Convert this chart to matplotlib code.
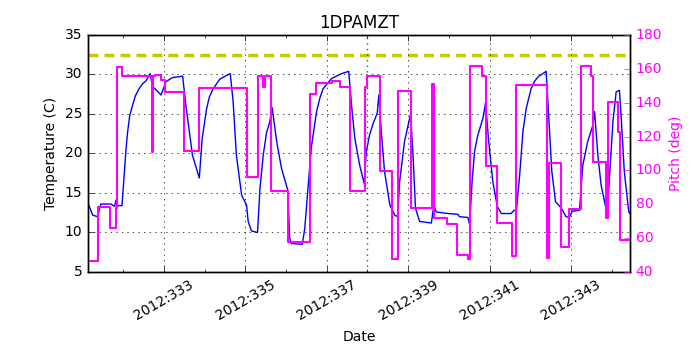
import numpy as np
import matplotlib
matplotlib.use("Agg")
import matplotlib.pyplot as plt

# temperature trace: day of year 2012 vs degC
temp_day = [331.15, 331.25, 331.37, 331.45, 331.70, 331.79, 331.82, 331.87, 331.97,
            332.03, 332.07, 332.11, 332.16, 332.23, 332.30, 332.39, 332.47, 332.56, 332.66,
            332.72, 332.93, 333.05, 333.21, 333.46, 333.54, 333.70, 333.87, 333.94, 334.05,
            334.12, 334.21, 334.37, 334.58, 334.63, 334.70, 334.78, 334.91, 335.03, 335.07,
            335.15, 335.30, 335.36, 335.44, 335.52, 335.60, 335.66, 335.77, 335.89, 336.04,
            336.09, 336.13, 336.40, 336.46, 336.54, 336.62, 336.75, 336.83, 336.91, 337.12,
            337.36, 337.54, 337.61, 337.69, 337.81, 337.92, 337.97, 338.05, 338.14, 338.24,
            338.28, 338.34, 338.42, 338.55, 338.67, 338.74, 338.79, 338.91, 339.06, 339.12,
            339.18, 339.28, 339.57, 339.63, 339.69, 339.98, 340.22, 340.26, 340.47, 340.51,
            340.57, 340.63, 340.71, 340.84, 340.90, 340.98, 341.08, 341.19, 341.29, 341.53,
            341.60, 341.66, 341.74, 341.82, 341.90, 342.02, 342.10, 342.19, 342.39, 342.46,
            342.53, 342.62, 342.76, 342.88, 342.96, 343.03, 343.21, 343.29, 343.41, 343.54,
            343.58, 343.66, 343.74, 343.85, 343.88, 343.95, 344.03, 344.11, 344.19, 344.23,
            344.31, 344.42, 344.45]
temp_val = [13.5, 12.2, 12.0, 13.6, 13.6, 13.3, 14.1, 13.4, 13.4,
            17.7, 20.6, 22.8, 24.8, 26.1, 27.3, 28.2, 28.8, 29.2, 30.1,
            28.5, 27.4, 29.1, 29.6, 29.8, 26.1, 19.8, 16.9, 21.9, 25.7,
            27.2, 28.2, 29.4, 30.0, 30.1, 26.6, 19.8, 14.7, 13.5, 11.4,
            10.2, 10.0, 15.6, 19.8, 22.6, 24.0, 25.8, 21.5, 18.1, 15.4,
            9.3, 8.6, 8.5, 10.5, 15.6, 20.7, 25.3, 27.0, 28.2, 29.5,
            30.1, 30.4, 26.1, 21.9, 18.5, 16.2, 20.2, 22.3, 23.8, 25.1,
            27.4, 22.8, 17.7, 13.5, 12.2, 12.0, 16.4, 21.5, 25.0, 19.8,
            13.1, 11.4, 11.2, 13.4, 12.6, 12.4, 12.3, 12.0, 11.9, 11.0,
            16.4, 20.2, 22.3, 24.5, 26.4, 21.5, 16.4, 13.3, 12.4, 12.4,
            12.8, 12.8, 17.3, 22.8, 25.7, 28.2, 29.1, 29.7, 30.4, 24.0,
            17.7, 13.9, 13.1, 12.0, 11.9, 12.7, 12.8, 18.5, 21.5, 23.6,
            25.3, 19.8, 16.0, 13.3, 11.8, 17.3, 24.0, 27.8, 28.0, 24.9,
            17.7, 12.6, 12.4]

# pitch steps: start day and pitch (deg)
pitch_day = [331.15, 331.37, 331.68, 331.82, 331.84, 331.97, 332.70, 332.72, 332.78,
             332.94, 333.02, 333.49, 333.87, 335.05, 335.31, 335.44, 335.49, 335.64,
             336.04, 336.59, 336.73, 337.12, 337.32, 337.56, 337.93, 337.99, 338.30,
             338.60, 338.75, 339.06, 339.58, 339.63, 339.96, 340.21, 340.47, 340.53,
             340.82, 340.92, 341.18, 341.56, 341.65, 342.40, 342.46, 342.75, 342.96,
             343.25, 343.49, 343.55, 343.86, 343.90, 344.15, 344.21, 344.45]
pitch_val = [46.5, 78.6, 65.8, 77.6, 160.9, 155.8, 111.0, 155.8, 156.5,
             153.4, 146.1, 111.5, 148.5, 96.3, 156.0, 149.5, 156.0, 87.8,
             57.5, 145.0, 151.5, 152.8, 149.1, 88.0, 149.5, 156.0, 99.8,
             47.7, 147.0, 77.6, 150.9, 71.7, 68.2, 50.0, 47.7, 161.7,
             155.8, 102.6, 68.8, 49.5, 150.5, 48.5, 104.2, 55.0, 77.2,
             161.7, 156.0, 105.2, 71.7, 140.6, 122.5, 58.9, 58.9]

planning_limit = 32.5
red_limit = 35.0
now_day = 337.98
tick_days = [333, 335, 337, 339, 341, 343]
tick_labels = ["2012:%d" % d for d in tick_days]

plt.style.use("classic")
fig = plt.figure(figsize=(7, 3.5), dpi=100)
fig.patch.set_facecolor("white")
ax = fig.add_axes([0.1257, 0.2229, 0.7743, 0.6771])

ax.plot(temp_day, temp_val, color="#0000ff", linewidth=1)
ax.axhline(planning_limit, color="#c8c800", linestyle="--", linewidth=2.5, dashes=(7.2, 4.3))
ax.axhline(red_limit, color="#c8c800", linestyle="-", linewidth=1.5)
ax.axvline(now_day, color="g", linestyle=":", linewidth=1)
ax.set_xlim(331.135, 344.45)
ax.set_ylim(5, 35)
ax.set_xticks(tick_days)
ax.set_xticklabels(tick_labels, rotation=30, ha="center", fontsize=10)
ax.set_xticks(np.arange(332, 345, 2), minor=True)
ax.set_yticks(np.arange(5, 36, 5))
ax.tick_params(axis="y", labelsize=10)
ax.grid(True, which="major")
ax.set_xlabel("Date", fontsize=10)
ax.set_ylabel("Temperature (C)", fontsize=10)
ax.set_title("1DPAMZT", fontsize=12)

ax2 = ax.twinx()
ax2.step(pitch_day, pitch_val, where="post", color="#ff00ff", linewidth=1.5)
ax2.set_ylim(40, 180)
ax2.set_yticks(np.arange(40, 181, 20))
ax2.tick_params(axis="y", colors="#ff00ff", labelsize=10)
ax2.set_ylabel("Pitch (deg)", color="#ff00ff", fontsize=10)
ax2.set_xlim(331.135, 344.45)

fig.savefig("out.png", dpi=100, facecolor="white")
